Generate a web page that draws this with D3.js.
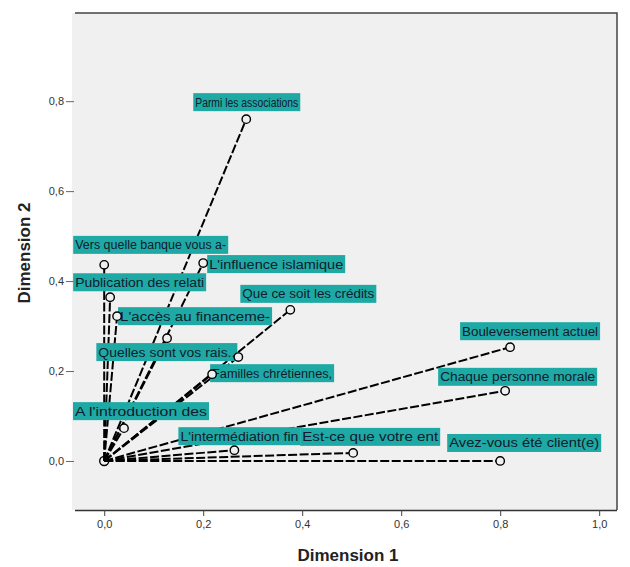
<!DOCTYPE html>
<html>
<head>
<meta charset="utf-8">
<script src="https://cdn.jsdelivr.net/npm/d3@7/dist/d3.min.js"></script>
<style>
  html, body { margin: 0; padding: 0; background: #ffffff; }
  svg { display: block; font-family: "Liberation Sans", Arial, sans-serif; }
</style>
</head>
<body>
<svg id="chart" width="630" height="567"></svg>
<script>
// ---- data ----
const labels = [
  "Parmi les associations",
  "Vers quelle banque vous a-",
  "L'influence islamique",
  "Publication des relati",
  "Que ce soit les crédits",
  "L'accès au financeme-",
  "",
  "Quelles sont vos rais..",
  "Familles chrétiennes,",
  "Bouleversement actuel",
  "Chaque personne morale",
  "A l'introduction des",
  "L'intermédiation fin",
  "Est-ce que votre ent",
  "Avez-vous été client(e)"
];
const dim1 = [0.287, 0.000, 0.200, 0.012, 0.376, 0.026, 0.127, 0.271, 0.218, 0.820, 0.810, 0.040, 0.263, 0.503, 0.800];
const dim2 = [0.760, 0.436, 0.440, 0.364, 0.336, 0.322, 0.273, 0.231, 0.193, 0.253, 0.156, 0.073, 0.024, 0.018, 0.000];
const xTicks = [0, 0.2, 0.4, 0.6, 0.8, 1.0];
const yTicks = [0, 0.2, 0.4, 0.6, 0.8];

// ---- label layout (pixel offsets of the label box from its point) ----
const labelDx = [-53, -31, 4, -37, -50, 1, 0, -142, -2, -50, -67, -51, -56, -53, -53];
const labelDy = [-26, -29, -8, -24, -25, -9, 0, -14, -10, -25, -23, -26, -23, -25, -27];
const labelW  = [107, 155, 138, 133, 136, 154, 0, 141, 124, 140, 159, 136, 122, 140, 154];

const svg = d3.select("#chart");
const L = 75, R = 617, T = 13, B = 510;
const x = d3.scaleLinear().domain([-0.059, 1.036]).range([L, R]);
const y = d3.scaleLinear().domain([-0.109, 0.996]).range([B, T]);

// plot background
svg.append("rect").attr("x", L - 3).attr("y", T).attr("width", R - L + 3).attr("height", B - T)
  .attr("fill", "#f0f0f0");
// frame top/right
svg.append("path").attr("d", `M${L},${T}H${R}V${B}`).attr("fill", "none")
  .attr("stroke", "#444").attr("stroke-width", 1.5);

// axes
const fmt = d => d3.format(".1f")(d).replace(".", ",");
const xAxis = svg.append("g").attr("transform", `translate(0,${B})`)
  .call(d3.axisBottom(x).tickValues(xTicks).tickFormat(fmt).tickSize(6).tickPadding(4).tickSizeOuter(0));
xAxis.select(".domain").attr("stroke", "#333").attr("stroke-width", 1.5)
  .attr("d", `M${L},0.5H${R}`);
xAxis.selectAll(".tick line").attr("stroke", "#444");
xAxis.selectAll(".tick text").attr("font-size", 11).attr("fill", "#333")
  .attr("font-family", "Liberation Sans, Arial, sans-serif");

const yAxis = svg.append("g").attr("transform", `translate(${L - 1},0)`)
  .call(d3.axisLeft(y).tickValues(yTicks).tickFormat(fmt).tickSize(8).tickPadding(2).tickSizeOuter(0));
yAxis.select(".domain").remove();
yAxis.selectAll(".tick line").attr("stroke", "#666");
yAxis.selectAll(".tick text").attr("font-size", 11).attr("fill", "#333")
  .attr("font-family", "Liberation Sans, Arial, sans-serif");

// axis titles
svg.append("text").attr("x", 348).attr("y", 561).attr("text-anchor", "middle")
  .attr("font-size", 17).attr("font-weight", "bold").attr("fill", "#222").text("Dimension 1");
svg.append("text").attr("transform", "translate(30,253) rotate(-90)").attr("text-anchor", "middle")
  .attr("font-size", 17).attr("font-weight", "bold").attr("fill", "#222").text("Dimension 2");

const idx = d3.range(labels.length);

// vectors from origin
svg.append("g").selectAll("line").data(idx).join("line")
  .attr("x1", x(0)).attr("y1", y(0))
  .attr("x2", i => x(dim1[i])).attr("y2", i => y(dim2[i]))
  .attr("stroke", "#000").attr("stroke-width", 2)
  .attr("stroke-dasharray", "9,2.5");

// labels
const lg = svg.append("g").selectAll("g").data(idx.filter(i => labels[i] !== "")).join("g")
  .attr("transform", i => `translate(${x(dim1[i]) + labelDx[i]},${y(dim2[i]) + labelDy[i]})`);
lg.append("rect").attr("width", i => labelW[i]).attr("height", 18).attr("fill", "#1fa9a4");
lg.append("text").attr("x", 2).attr("y", 13.5).attr("font-size", 12).attr("fill", "#111a2e")
  .attr("textLength", i => labelW[i] - 4).attr("lengthAdjust", "spacingAndGlyphs")
  .text(i => labels[i]);

// points
svg.append("circle").attr("cx", x(0)).attr("cy", y(0)).attr("r", 4.5)
  .attr("fill", "none").attr("stroke", "#000").attr("stroke-width", 1.4);
svg.append("g").selectAll("circle").data(idx).join("circle")
  .attr("cx", i => x(dim1[i])).attr("cy", i => y(dim2[i])).attr("r", 4.2)
  .attr("fill", "#f0f0f0").attr("stroke", "#000").attr("stroke-width", 1.4);
</script>
</body>
</html>
